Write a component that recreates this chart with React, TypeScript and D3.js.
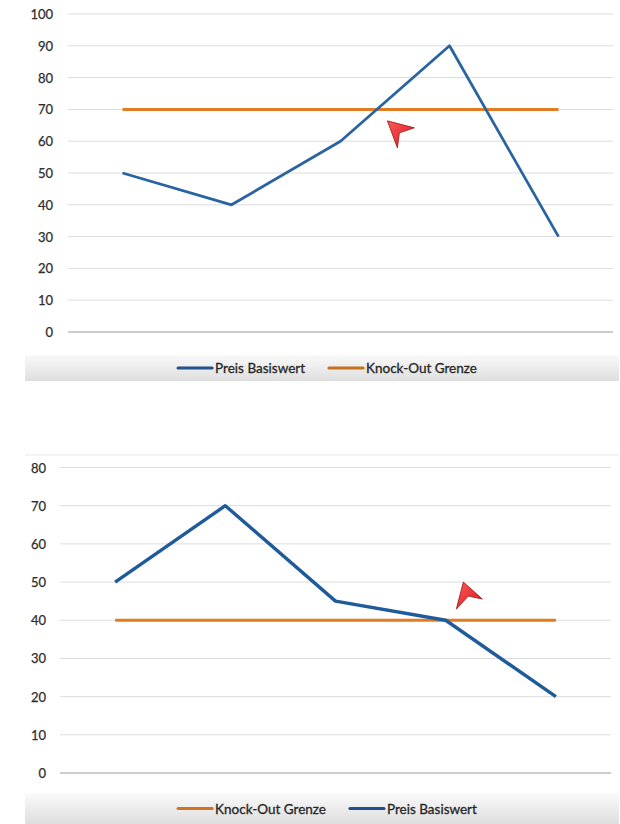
import { scaleBand, scaleLinear, line } from "d3";

const categories = ["1", "2", "3", "4", "5"];

const topPreis = [50, 40, 60, 90, 30];
const topKnockOut = [70, 70, 70, 70, 70];
const topTicks = [0, 10, 20, 30, 40, 50, 60, 70, 80, 90, 100];

const bottomPreis = [50, 70, 45, 40, 20];
const bottomKnockOut = [40, 40, 40, 40, 40];
const bottomTicks = [0, 10, 20, 30, 40, 50, 60, 70, 80];

const PREIS_LABEL = "Preis Basiswert";
const KO_LABEL = "Knock-Out Grenze";

// pointer annotations, as [category position, value]
const topPointer: [number, number] = [2.43, 66.4];
const bottomPointer: [number, number] = [3.16, 50];

const BLUE = "#2a64a0";
const BLUE_DARK = "#1f5b9b";
const ORANGE = "#e27b22";
const FONT = "Lato, 'Open Sans', sans-serif";

type Series = { name: string; values: number[]; color: string; legendColor: string; width: number };

type PanelProps = {
  top: number;
  bottom: number;
  left: number;
  right: number;
  labelRight: number;
  ticks: number[];
  series: Series[];
  drawOrder: Series[];
  legendTop: number;
  legendBottom: number;
  pointer: [number, number];
  pointerShape: string;
  gradientId: string;
};

let measureCtx: CanvasRenderingContext2D | null = null;
function textWidth(text: string, font: string) {
  if (!measureCtx) measureCtx = document.createElement("canvas").getContext("2d");
  if (!measureCtx) return text.length * 6.5;
  measureCtx.font = font;
  return measureCtx.measureText(text).width;
}

function Panel({
  top,
  bottom,
  left,
  right,
  labelRight,
  ticks,
  series,
  drawOrder,
  legendTop,
  legendBottom,
  pointer,
  pointerShape,
  gradientId
}: PanelProps) {
  const x = scaleBand<string>().domain(categories).range([left, right]);
  const y = scaleLinear().domain([0, ticks[ticks.length - 1]]).range([bottom, top]);
  const cx = (c: string) => (x(c) ?? 0) + x.bandwidth() / 2;
  const path = line<number>()
    .x((_d, i) => cx(categories[i]))
    .y((d) => y(d));

  const legendFontSize = 13.5;
  const legendFont = `${legendFontSize}px Lato`;
  const swatch = 34;
  const items = series.map((s) => ({ s, w: textWidth(s.name, legendFont) }));
  const total = items.reduce((acc, it) => acc + swatch + 3 + it.w, 0) + 24 * (items.length - 1);
  let cursor = 327.5 - total / 2;
  const legendY = (legendTop + legendBottom) / 2;
  const placed = items.map((it) => {
    const start = cursor;
    cursor += swatch + 3 + it.w + 24;
    return { ...it, start };
  });

  const px = cx(categories[0]) + pointer[0] * x.step();
  const py = y(pointer[1]);

  return (
    <g>
      <defs>
        <linearGradient id={gradientId} x1="0" y1="0" x2="0" y2="1">
          <stop offset="0" stopColor="#fafafa" />
          <stop offset="1" stopColor="#dedede" />
        </linearGradient>
        <linearGradient id={gradientId + "-red"} x1="0" y1="0" x2="1" y2="1">
          <stop offset="0" stopColor="#ff5a5a" />
          <stop offset="1" stopColor="#d4141c" />
        </linearGradient>
      </defs>
      {ticks.map((t) => (
        <g key={t}>
          <line
            x1={left}
            x2={right}
            y1={y(t)}
            y2={y(t)}
            stroke={t === 0 ? "#bdbdbd" : "#dcdcdc"}
            strokeWidth={t === 0 ? 1.3 : 1}
          />
          <text
            x={labelRight}
            y={y(t)}
            textAnchor="end"
            dominantBaseline="central"
            fontFamily={FONT}
            fontSize={13}
            fill="#2e2e2e"
            stroke="#2e2e2e"
            strokeWidth={0.25}
          >
            {t}
          </text>
        </g>
      ))}
      {drawOrder.map((s) => (
        <path
          key={s.name}
          d={path(s.values) ?? ""}
          fill="none"
          stroke={s.color}
          strokeWidth={s.width}
          strokeLinejoin="round"
        />
      ))}
      <path
        d={`M${px},${py} ${pointerShape}`}
        fill={`url(#${gradientId}-red)`}
        stroke="#9c1010"
        strokeWidth={0.8}
        strokeLinejoin="round"
      />
      <rect x={25} y={legendTop} width={594} height={legendBottom - legendTop} fill={`url(#${gradientId})`} />
      {placed.map((p) => (
        <g key={p.s.name}>
          <line
            x1={p.start}
            x2={p.start + swatch}
            y1={legendY}
            y2={legendY}
            stroke={p.s.legendColor}
            strokeWidth={3.2}
            strokeLinecap="round"
          />
          <text
            x={p.start + swatch + 3}
            y={legendY}
            dominantBaseline="central"
            fontFamily={FONT}
            fontSize={legendFontSize}
            fill="#262626"
            stroke="#262626"
            strokeWidth={0.3}
          >
            {p.s.name}
          </text>
        </g>
      ))}
    </g>
  );
}

export default function App() {
  const topPreisSeries: Series = { name: PREIS_LABEL, values: topPreis, color: BLUE, legendColor: "#21518a", width: 2.8 };
  const topKoSeries: Series = { name: KO_LABEL, values: topKnockOut, color: ORANGE, legendColor: "#c6711f", width: 3 };
  const botPreisSeries: Series = { name: PREIS_LABEL, values: bottomPreis, color: BLUE_DARK, legendColor: "#1f4f8c", width: 3.4 };
  const botKoSeries: Series = { name: KO_LABEL, values: bottomKnockOut, color: ORANGE, legendColor: "#d0741f", width: 3 };

  return (
    <svg
      width={620}
      height={824}
      style={{ position: "absolute", left: 0, top: 0, display: "block", background: "#ffffff" }}
    >
      <Panel
        top={14}
        bottom={332}
        left={68}
        right={613}
        labelRight={53}
        ticks={topTicks}
        series={[topPreisSeries, topKoSeries]}
        drawOrder={[topKoSeries, topPreisSeries]}
        legendTop={355}
        legendBottom={381}
        pointer={topPointer}
        pointerShape="l27,7 l-15,5 l-2,15 z"
        gradientId="legend-top"
      />
      <line x1={25} x2={619} y1={455} y2={455} stroke="#f0f0f0" strokeWidth={1.5} />
      <Panel
        top={467.5}
        bottom={773}
        left={60}
        right={611}
        labelRight={46}
        ticks={bottomTicks}
        series={[botKoSeries, botPreisSeries]}
        drawOrder={[botKoSeries, botPreisSeries]}
        legendTop={793}
        legendBottom={824}
        pointer={bottomPointer}
        pointerShape="l19,17 l-14,-3 l-12,13 z"
        gradientId="legend-bottom"
      />
    </svg>
  );
}
